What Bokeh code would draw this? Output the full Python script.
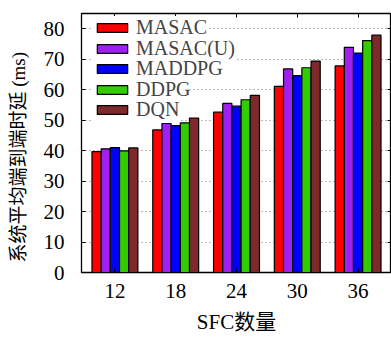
from bokeh.plotting import figure
from bokeh.models import (ColumnDataSource, FactorRange, Range1d, LinearAxis, CategoricalAxis,
                          FixedTicker, Legend, LegendItem)
from bokeh.transform import dodge
from bokeh.embed import file_html
from bokeh.resources import INLINE

sfc = ["12", "18", "24", "30", "36"]
masac = [39.7, 46.8, 52.6, 61.1, 67.8]
masac_u = [40.6, 48.9, 55.5, 66.8, 73.9]
maddpg = [41.0, 48.2, 54.6, 64.6, 72.0]
ddpg = [39.9, 49.1, 56.7, 67.2, 76.1]
dqn = [40.9, 50.7, 58.1, 69.4, 77.9]
series_names = ["MASAC", "MASAC(U)", "MADDPG", "DDPG", "DQN"]
colors = ["#ff0000", "#a020f0", "#0000ff", "#33cc00", "#7f2a2a"]
y_ticks = [0, 10, 20, 30, 40, 50, 60, 70, 80]

FONT = "'Liberation Serif', 'Noto Sans CJK SC', serif"

src = ColumnDataSource(dict(sfc=sfc, s0=masac, s1=masac_u, s2=maddpg, s3=ddpg, s4=dqn))

p = figure(width=391, height=338, output_backend="svg", toolbar_location=None,
           x_range=FactorRange(*sfc, range_padding=0.05, range_padding_units="absolute"),
           y_range=Range1d(0, 85),
           min_border_left=81, min_border_right=0, min_border_top=13, min_border_bottom=66)

bw = 0.151
renderers = []
for i, key in enumerate(["s0", "s1", "s2", "s3", "s4"]):
    r = p.vbar(x=dodge("sfc", (i - 2) * bw, range=p.x_range), top=key, width=bw, source=src,
               fill_color=colors[i], line_color="black", line_width=1.2)
    renderers.append(r)

p.outline_line_color = "black"
p.outline_line_width = 1.3

# grids
p.xgrid.visible = False
p.ygrid.ticker = FixedTicker(ticks=y_ticks[1:])
p.ygrid.grid_line_color = "#777777"
p.ygrid.grid_line_dash = "1 3"
p.ygrid.grid_line_width = 1

# axes
for ax in [p.xaxis[0], p.yaxis[0]]:
    ax.axis_line_color = "black"
    ax.major_tick_in = 4
    ax.major_tick_out = 0
    ax.minor_tick_in = 0
    ax.minor_tick_out = 0
    ax.major_label_text_font = FONT
    ax.major_label_text_font_size = "21px"
    ax.major_label_text_color = "black"
    ax.axis_label_text_font = FONT
    ax.axis_label_text_font_style = "normal"
    ax.axis_label_text_color = "black"

p.yaxis[0].ticker = FixedTicker(ticks=y_ticks)
p.yaxis[0].major_label_standoff = 17
p.yaxis[0].axis_label = "系统平均端到端时延 (ms)\u3000\u2002"
p.yaxis[0].axis_label_text_font_size = "19px"
p.yaxis[0].axis_label_standoff = 12
p.xaxis[0].major_label_standoff = 11
p.xaxis[0].axis_label = "SFC数量"
p.xaxis[0].axis_label_text_font_size = "21px"
p.xaxis[0].axis_label_standoff = 9

top_ax = CategoricalAxis(major_tick_in=4, major_tick_out=0, major_label_standoff=0,
                         major_label_text_color=None, major_label_text_font_size="8px",
                         axis_line_color="black")
p.add_layout(top_ax, "above")
right_ax = LinearAxis(ticker=FixedTicker(ticks=y_ticks), major_tick_in=4, major_tick_out=0,
                      minor_tick_in=0, minor_tick_out=0, major_label_standoff=0,
                      major_label_text_color=None, major_label_text_font_size="8px",
                      axis_line_color="black")
p.add_layout(right_ax, "right")

# one small legend per row so that each row box stays clear of the bars
row_h = 22
pad = 0
frame_bottom = 272
row_centers = [28, 48.5, 69, 89.5, 110]
for name, r, c in zip(series_names, renderers, row_centers):
    lg = Legend(items=[LegendItem(label=name, renderers=[r])],
                location=(12 - pad, frame_bottom - c - row_h / 2 - pad),
                padding=pad, margin=0, spacing=0,
                glyph_width=38, glyph_height=11, label_standoff=5, label_height=row_h,
                label_text_font="Liberation Serif", label_text_font_size="20px",
                label_text_baseline="middle",
                background_fill_color="white", background_fill_alpha=1.0,
                border_line_alpha=0)
    p.add_layout(lg, "center")

open("out.html", "w").write(file_html(p, INLINE))
